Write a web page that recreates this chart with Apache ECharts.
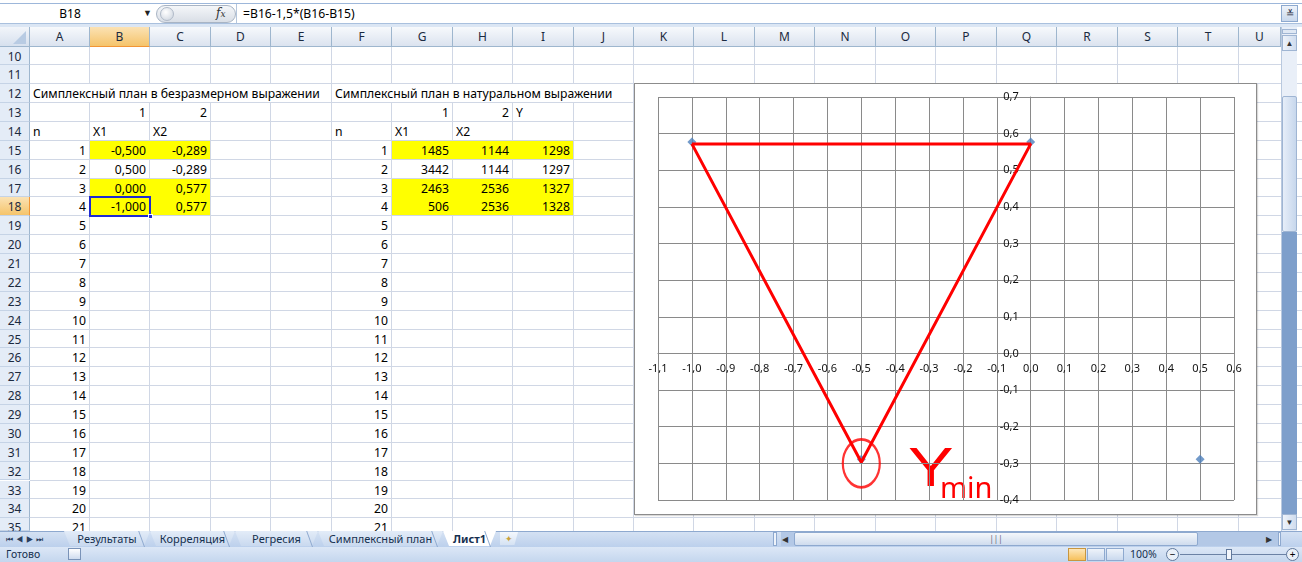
<!DOCTYPE html>
<html><head><meta charset="utf-8">
<script src="https://cdn.jsdelivr.net/npm/echarts@6/dist/echarts.min.js"></script>
<style>
html,body{margin:0;padding:0}
body{width:1302px;height:562px;overflow:hidden;position:relative;background:#fff;font-family:"Noto Sans",sans-serif;color:#000}
.abs{position:absolute;box-sizing:border-box}
.cell{position:absolute;font-size:12.2px;line-height:18px;white-space:nowrap;overflow:visible}
.hdr{position:absolute;box-sizing:border-box;font-size:12px;text-align:center;color:#1b2a40}
#chartBox{position:absolute;left:634px;top:83px;width:623px;height:432px;border:1px solid #8c8c8c;background:#fff;box-sizing:border-box;z-index:5;box-shadow:1px 1px 1px rgba(0,0,0,0.15)}
#chart{position:absolute;left:0;top:0;width:621px;height:430px}
</style></head>
<body>
<div id="ui"></div>
<div id="chartBox"><div id="chart"></div></div>
<script>
// ---------- data ----------
const colLetters = ['A','B','C','D','E','F','G','H','I','J','K','L','M','N','O','P','Q','R','S','T','U'];
const rowNumbers = [10,11,12,13,14,15,16,17,18,19,20,21,22,23,24,25,26,27,28,29,30,31,32,33,34,35];
const titleDim = 'Симплексный план в безразмерном выражении';
const titleNat = 'Симплексный план в натуральном выражении';
const factorIdx = ['1','2'];
const headerN = 'n';
const factorNames = ['X1','X2'];
const responseName = 'Y';
const pointN = [1,2,3,4,5,6,7,8,9,10,11,12,13,14,15,16,17,18,19,20,21];
const x1Dim = [-0.500, 0.500, 0.000, -1.000];
const x2Dim = [-0.289, -0.289, 0.577, 0.577];
const x1Nat = [1485, 3442, 2463, 506];
const x2Nat = [1144, 1144, 2536, 2536];
const yNat  = [1298, 1297, 1327, 1328];
const highlightedRows = [15, 17, 18];
const nameBox = 'B18';
const formulaText = '=B16-1,5*(B16-B15)';
const sheetTabs = ['Результаты','Корреляция','Регресия','Симплексный план','Лист1'];
const statusText = 'Готово';
const zoomText = '100%';
// chart axes
const xMin = -1.1, xMax = 0.6, yMin = -0.4, yMax = 0.7, step = 0.1;
// hand-drawn red triangle (x, y)
const triX = [-1.0, 0.0, -0.5, -1.0];
const triY = [0.572, 0.572, -0.297, 0.572];
const markerCenter = [-0.5, -0.3];
const annoMain = 'Y', annoSub = 'min';

// ---------- spreadsheet UI ----------
const ui = document.getElementById('ui');
function el(css, html, cls){const d=document.createElement('div');d.className=cls||'abs';d.style.cssText=css;if(html!==undefined)d.innerHTML=html;ui.appendChild(d);return d;}
const colL = i => Math.round(29.5 + 60.45*i);
const rowT = r => 46.5 + (r-10)*18.87;
const gridBottom = 531;

// formula bar
el('left:0;top:0;width:1302px;height:27px;background:#fff');
el('left:0;top:3px;width:1302px;height:1px;background:#9db7da');
el('left:0;top:23px;width:1302px;height:4px;background:#dbe6f4;border-top:1px solid #a9c0de');
el('left:0;top:4px;width:152px;height:19px;font-size:12px;line-height:19px;text-align:center;padding-right:12px', nameBox);
el('left:143px;top:6px;width:10px;height:14px;font-size:9px;line-height:14px;color:#222','▼');
el('left:156px;top:5px;width:80px;height:18px;border-radius:9px;background:linear-gradient(#f4f6f9,#d9dee6);border:1px solid #a8b4c4');
el('left:160px;top:7px;width:14px;height:14px;border-radius:7px;background:radial-gradient(circle at 40% 35%,#fff,#c9d1dc);border:1px solid #b0bac8');
el('left:216px;top:4px;width:18px;height:19px;font-size:12px;line-height:19px;font-style:italic;font-family:"DejaVu Serif",serif;color:#333','<i>f</i><span style="font-size:9px">x</span>');
el('left:236px;top:4px;width:1px;height:19px;background:#b5c6dc');
el('left:243px;top:4px;height:19px;font-size:12.2px;line-height:19px;white-space:nowrap', formulaText);
el('left:1281px;top:5px;width:17px;height:17px;background:linear-gradient(#eef3fa,#c9d8ec);border:1px solid #8da9cf;font-size:10px;line-height:15px;text-align:center;color:#223','&#8794;');

// column headers
el('left:0;top:27px;width:1281px;height:20px;background:linear-gradient(#f7f9fc,#dbe3ef);border-bottom:1px solid #9eb6ce');
el('left:0;top:27px;width:30px;height:20px;background:linear-gradient(#f2f5fa,#d6e0ee);border-right:1px solid #9eb6ce;border-bottom:1px solid #9eb6ce');
el('left:13px;top:31px;width:0;height:0;border-left:13px solid transparent;border-bottom:13px solid #b8cbe3');
colLetters.forEach((c,i)=>{
  const l=colL(i), w=colL(i+1)-l;
  const sel = c==='B';
  el(`left:${l}px;top:27px;width:${Math.min(w,1281-l)}px;height:20px;line-height:20px;border-right:1px solid #9eb6ce;border-bottom:1px solid ${sel?'#f29536':'#9eb6ce'};${sel?'background:linear-gradient(#fbe2b4,#f5c46b);':''}`, c, 'hdr');
});
// row headers + grid lines
rowNumbers.forEach(r=>{
  const t=rowT(r), h=Math.min(18.87, gridBottom-t);
  const sel = r===18;
  el(`left:0;top:${t}px;width:30px;height:${h}px;line-height:19px;background:${sel?'linear-gradient(#fbe2b4,#f5c46b)':'#e4ecf7'};border-right:1px solid ${sel?'#f29536':'#9eb6ce'};border-bottom:1px solid #c5d3e6`, String(r), 'hdr');
  el(`left:30px;top:${t+18.87-1}px;width:1272px;height:1px;background:#d0d7e5`);
});
colLetters.forEach((c,i)=>{
  const l=colL(i+1)-1;
  if(l<1281) el(`left:${l}px;top:47px;width:1px;height:${gridBottom-47}px;background:#d0d7e5`);
});
// overflowing title text hides the grid lines it covers
el(`left:${colL(0)}px;top:${rowT(12)}px;width:${colL(5)-colL(0)-1}px;height:18px;background:#fff`);
el(`left:${colL(5)}px;top:${rowT(12)}px;width:${colL(10)-colL(5)-1}px;height:18px;background:#fff`);
// yellow fills
highlightedRows.forEach(r=>{
  el(`left:${colL(1)}px;top:${rowT(r)}px;width:${colL(3)-colL(1)-1}px;height:18px;background:#ffff00`);
  el(`left:${colL(6)}px;top:${rowT(r)}px;width:${colL(9)-colL(6)-1}px;height:18px;background:#ffff00`);
});
// cells
function cell(col,row,text,align){
  const l=colL(col), w=colL(col+1)-l, t=rowT(row);
  if(align==='right') el(`left:${l}px;top:${t+1}px;width:${w-4}px;text-align:right`, text, 'cell');
  else el(`left:${l+3}px;top:${t+1}px`, text, 'cell');
}
const fmt3 = v => v.toFixed(3).replace('.', ',');
cell(0,12,titleDim); cell(5,12,titleNat);
cell(1,13,factorIdx[0],'right'); cell(2,13,factorIdx[1],'right');
cell(6,13,factorIdx[0],'right'); cell(7,13,factorIdx[1],'right'); cell(8,13,responseName);
cell(0,14,headerN); cell(1,14,factorNames[0]); cell(2,14,factorNames[1]);
cell(5,14,headerN); cell(6,14,factorNames[0]); cell(7,14,factorNames[1]);
pointN.forEach((n,i)=>{ cell(0,15+i,String(n),'right'); cell(5,15+i,String(n),'right'); });
x1Dim.forEach((v,i)=>{
  cell(1,15+i,fmt3(v),'right'); cell(2,15+i,fmt3(x2Dim[i]),'right');
  cell(6,15+i,String(x1Nat[i]),'right'); cell(7,15+i,String(x2Nat[i]),'right'); cell(8,15+i,String(yNat[i]),'right');
});
// active cell B18
el(`left:${colL(1)-1}px;top:${rowT(18)-1}px;width:${colL(2)-colL(1)+2}px;height:21px;border:2px solid #1f2bd0`);
el(`left:${colL(2)-2}px;top:${rowT(18)+17}px;width:5px;height:5px;background:#1f2bd0;border:1px solid #fff`);

// vertical scrollbar
el('left:1281px;top:27px;width:16px;height:504px;background:#e9eff8;border-left:1px solid #b9c9df');
el('left:1282px;top:29px;width:15px;height:5px;background:#dfe8f4;border:1px solid #9fb5d3');
el('left:1282px;top:35px;width:15px;height:16px;background:linear-gradient(90deg,#eef3fa,#cfdcee);border:1px solid #9fb5d3;font-size:8px;line-height:14px;text-align:center;color:#333','▲');
el('left:1282px;top:96px;width:15px;height:136px;background:linear-gradient(90deg,#e6eef9,#c7d7ec);border:1px solid #9fb5d3;border-radius:2px');
el('left:1282px;top:232px;width:15px;height:282px;background:#7e9fcb');
el('left:1282px;top:514px;width:15px;height:16px;background:linear-gradient(90deg,#eef3fa,#cfdcee);border:1px solid #9fb5d3;font-size:8px;line-height:14px;text-align:center;color:#333','▼');

// sheet tab bar
el('left:0;top:531px;width:1302px;height:16px;background:linear-gradient(#d4e1f3,#bcd0ec);border-top:1px solid #8ea9cf');
el('left:6px;top:532px;width:56px;height:14px;font-size:8px;line-height:14px;color:#2a3c5c;letter-spacing:3px','&#9198;&#9664;&#9654;&#9197;');
const tabPos = [[64,150],[150,235],[235,318],[318,443],[443,496]];
sheetTabs.forEach((t,i)=>{
  const [a,b]=tabPos[i]; const act = i===sheetTabs.length-1;
  el(`left:${a}px;top:531px;width:${b-a}px;height:15px;background:${act?'#fff':'linear-gradient(#e3ecf8,#c9d9ef)'};clip-path:polygon(0 0,100% 0,calc(100% - 6px) 100%,6px 100%);font-size:11px;line-height:15px;text-align:center;color:#15304f;${act?'font-weight:bold;':''}`, t);
  el(`left:${b-6}px;top:531px;width:1px;height:16px;background:#8ea9cf;transform:skewX(20deg);transform-origin:bottom`);
});
el('left:500px;top:532px;width:18px;height:13px;background:linear-gradient(#f4f8fd,#d5e2f3);clip-path:polygon(0 0,100% 0,80% 100%,0 100%);font-size:9px;line-height:13px;text-align:center;color:#c9a23a','&#10022;');
// horizontal scrollbar
el('left:773px;top:532px;width:4px;height:14px;background:#eef3fa;border:1px solid #8ea9cf');
el('left:781px;top:532px;width:499px;height:14px;background:#b3c8e6');
el('left:782px;top:533px;width:10px;height:12px;font-size:8px;line-height:12px;color:#333','&#9664;');
el('left:794px;top:532px;width:404px;height:14px;background:linear-gradient(#f4f7fb,#cfdcee);border:1px solid #8ea9cf;border-radius:2px;font-size:8px;line-height:12px;text-align:center;color:#667','|||');
el('left:1266px;top:533px;width:10px;height:12px;font-size:8px;line-height:12px;color:#333','&#9654;');
el('left:1278px;top:532px;width:3px;height:14px;background:#eef3fa;border:1px solid #8ea9cf');

// status bar
el('left:0;top:547px;width:1302px;height:15px;background:linear-gradient(#dce7f6,#c4d6ee)');
el('left:6px;top:547px;height:15px;font-size:10.5px;line-height:15px;color:#15304f', statusText);
el('left:68px;top:548px;width:13px;height:12px;background:linear-gradient(#fff,#cfdcef);border:1px solid #7a93b8');
el('left:1068px;top:548px;width:18px;height:13px;background:linear-gradient(#fde6b8,#f7c15c);border:1px solid #c8963f');
el('left:1087px;top:548px;width:18px;height:13px;background:linear-gradient(#eef3fa,#cad9ee);border:1px solid #8ea9cf');
el('left:1106px;top:548px;width:18px;height:13px;background:linear-gradient(#eef3fa,#cad9ee);border:1px solid #8ea9cf');
el('left:1130px;top:547px;height:15px;font-size:10.5px;line-height:15px;color:#15304f', zoomText);
el('left:1166px;top:548px;width:13px;height:13px;border-radius:7px;background:#eaf0f8;border:1px solid #61799d;font-size:10px;line-height:11px;text-align:center','&minus;');
el('left:1180px;top:554px;width:107px;height:1px;background:#6b82a5');
el('left:1226px;top:549px;width:6px;height:11px;background:#f3f6fb;border:1px solid #61799d');
el('left:1286px;top:548px;width:13px;height:13px;border-radius:7px;background:#eaf0f8;border:1px solid #61799d;font-size:10px;line-height:11px;text-align:center','+');

// ---------- chart ----------
const chart = echarts.init(document.getElementById('chart'), null, {renderer:'canvas'});
const dec = v => (Math.abs(v) < 1e-9 ? 0 : v).toFixed(1).replace('.', ',');
const gridColor = '#8a8a8a';
const gridW = 576, gridH = 403;
// place each axis line (and its labels) on the other axis' zero
const xAxisShift = -((0 - yMin) / (yMax - yMin)) * gridH;
const yAxisShift = -((0 - xMin) / (xMax - xMin)) * gridW;
const pts = x1Dim.map((v,i)=>[v, x2Dim[i]]);
const tri = triX.map((v,i)=>[v, triY[i]]);
chart.setOption({
  animation:false,
  backgroundColor:'#fff',
  grid:{left:23, top:13, width:gridW, height:gridH, containLabel:false, outerBoundsMode:'none', show:false},
  xAxis:{type:'value', min:xMin, max:xMax, interval:step, position:'bottom', offset:xAxisShift,
    axisLine:{show:true, onZero:false, lineStyle:{color:gridColor, width:1}},
    axisTick:{show:false},
    splitLine:{show:true, lineStyle:{color:gridColor, width:1}},
    axisLabel:{formatter:dec, fontFamily:'Noto Sans', fontSize:11, color:'#111', margin:10, showMinLabel:true, showMaxLabel:true, hideOverlap:false}},
  yAxis:{type:'value', min:yMin, max:yMax, interval:step, position:'left', offset:yAxisShift,
    axisLine:{show:true, onZero:false, lineStyle:{color:gridColor, width:1}},
    axisTick:{show:false},
    splitLine:{show:true, lineStyle:{color:gridColor, width:1}},
    axisLabel:{formatter:dec, fontFamily:'Noto Sans', fontSize:11, color:'#111', margin:12, showMinLabel:true, showMaxLabel:true, hideOverlap:false}},
  series:[
    {type:'scatter', data:pts, symbol:'diamond', symbolSize:9, itemStyle:{color:'#4f81bd'}, z:2, silent:true},
    {type:'line', data:tri, showSymbol:false, symbol:'none', lineStyle:{color:'#ff0000', width:3}, z:3, silent:true},
    {type:'scatter', data:[markerCenter], symbol:'circle', symbolSize:[37,48], itemStyle:{color:'rgba(0,0,0,0)', borderColor:'#ff0000', borderWidth:2.5}, z:4, silent:true}
  ],
  graphic:[
    {type:'text', x:273, y:359, scaleX:1.22, style:{text:annoMain, fill:'#ff0000', font:'56px "Liberation Sans"'}},
    {type:'text', x:305, y:391, style:{text:annoSub, fill:'#ff0000', font:'29px "Noto Sans"'}}
  ]
});
</script>
</body></html>
